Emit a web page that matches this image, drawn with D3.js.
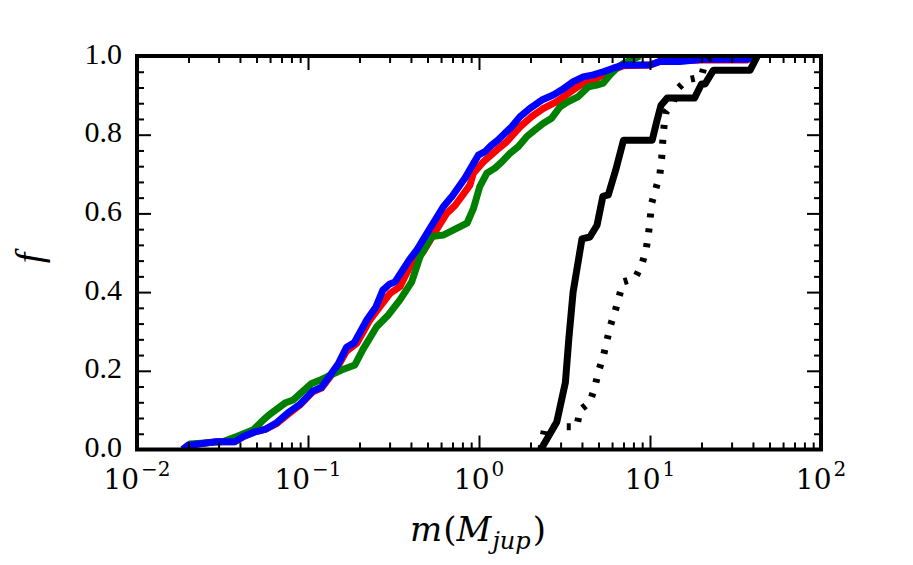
<!DOCTYPE html>
<html><head><meta charset="utf-8">
<script src="https://cdn.jsdelivr.net/npm/d3@7"></script>
<style>body{margin:0;background:#fff;} svg{display:block;}</style>
</head><body>
<script>
// ---- data (m in Jupiter masses, f = cumulative fraction) ----
const redM = [0.0185,0.0200,0.0292,0.0374,0.0419,0.049,0.0561,0.0656,0.0767,0.0897,0.107,0.120,0.150,0.168,0.193,0.230,0.260,0.302,0.345,0.395,0.472,0.541,0.647,0.724,0.885,0.927,1.06,1.269,1.452,1.738,2.03,2.38,2.85,3.33,3.90,4.46,5.33,6.10,6.98,10.0,11.4,20,37,40];
const redF = [0,0.011,0.020,0.020,0.033,0.045,0.051,0.066,0.090,0.113,0.147,0.156,0.212,0.250,0.270,0.329,0.360,0.397,0.414,0.465,0.503,0.545,0.600,0.620,0.672,0.702,0.731,0.761,0.782,0.820,0.846,0.867,0.884,0.905,0.926,0.935,0.952,0.965,0.975,0.977,0.986,0.990,0.990,1.0];

const greenM = [0.0187,0.0204,0.032,0.0383,0.0479,0.0548,0.060,0.0733,0.082,0.105,0.120,0.157,0.188,0.210,0.252,0.295,0.345,0.404,0.452,0.528,0.618,0.851,0.927,1.01,1.11,1.24,1.36,1.52,1.70,1.90,2.12,2.38,2.66,2.98,3.33,3.81,4.07,4.36,4.88,5.33,5.84,6.39,6.98,8.7];
const greenF = [0,0.014,0.020,0.033,0.050,0.075,0.090,0.118,0.126,0.168,0.178,0.202,0.215,0.255,0.312,0.342,0.380,0.426,0.490,0.541,0.545,0.575,0.612,0.668,0.702,0.715,0.731,0.753,0.770,0.795,0.812,0.829,0.842,0.871,0.884,0.897,0.909,0.922,0.926,0.931,0.952,0.969,0.981,1.0];

const blueM = [0.0185,0.0200,0.0292,0.0374,0.0419,0.049,0.0561,0.0656,0.0767,0.0897,0.107,0.120,0.150,0.168,0.186,0.222,0.250,0.274,0.299,0.323,0.391,0.433,0.483,0.618,0.700,0.828,0.906,0.991,1.084,1.186,1.297,1.419,1.553,1.738,1.986,2.33,2.72,3.05,3.56,4.07,4.66,5.33,6.10,6.98,10.0,11.4,14.9,20.4,37.4,40];
const blueF = [0,0.011,0.020,0.020,0.033,0.045,0.051,0.068,0.094,0.115,0.149,0.158,0.217,0.260,0.271,0.331,0.363,0.405,0.420,0.426,0.482,0.507,0.541,0.617,0.645,0.690,0.719,0.748,0.757,0.774,0.787,0.804,0.820,0.846,0.867,0.888,0.901,0.914,0.935,0.947,0.952,0.960,0.969,0.977,0.977,0.986,0.986,0.992,0.992,1.0];

const solidM = [2.3,2.85,3.2,3.35,3.55,4.0,4.45,4.9,5.3,5.7,6.3,7.0,10.3,10.9,11.6,12.6,18.2,20.0,21.0,23.5,38.5,42.5];
const solidF = [0,0.07,0.17,0.28,0.40,0.535,0.54,0.57,0.643,0.647,0.71,0.786,0.786,0.83,0.875,0.893,0.893,0.929,0.929,0.964,0.964,1.0];

const dotM = [2.3,2.43,3.06,3.73,3.90,4.46,4.77,4.99,5.33,5.58,5.84,6.24,6.59,6.98,8.17,8.94,9.48,9.78,10.0,10.23,10.84,11.43,11.7,11.86,12.07,12.4,13.7,14.6,16.4,20.0,21.0,22.4,25.0];
const dotF = [0,0.058,0.058,0.058,0.10,0.121,0.16,0.198,0.236,0.274,0.312,0.35,0.388,0.426,0.435,0.469,0.507,0.545,0.583,0.626,0.664,0.70,0.74,0.78,0.82,0.858,0.884,0.918,0.939,0.947,0.985,0.995,1.0];

const xMajor = [1e-2,1e-1,1e0,1e1,1e2];
const xExp = ["\u22122","\u22121","0","1","2"];
const yMajor = [0,0.2,0.4,0.6,0.8,1.0];
const yLabels = ["0.0","0.2","0.4","0.6","0.8","1.0"];

// ---- layout ----
const W=913,H=565, L=137,R=821,T=56,B=449.5;
const serifA = "Liberation Serif";
const serifB = "DejaVu Serif";
const svg = d3.select("body").append("svg").attr("width",W).attr("height",H);
const x = d3.scaleLog().domain([1e-2,1e2]).range([L,R]);
const y = d3.scaleLinear().domain([0,1]).range([B,T]);

svg.append("defs").append("clipPath").attr("id","clip")
  .append("rect").attr("x",L).attr("y",T).attr("width",R-L).attr("height",B-T);

const series = [
  {m:redM,f:redF,color:"#ff0000",dash:null},
  {m:greenM,f:greenF,color:"#008000",dash:null},
  {m:blueM,f:blueF,color:"#0000ff",dash:null},
  {m:dotM,f:dotF,color:"#000000",dash:"4 11"},
  {m:solidM,f:solidF,color:"#000000",dash:null}
];
const line = d3.line().x(d=>x(d[0])).y(d=>y(d[1]));
const g = svg.append("g").attr("clip-path","url(#clip)");
series.forEach(s=>{
  g.append("path").datum(s.m.map((v,i)=>[v,s.f[i]]))
   .attr("d",line).attr("fill","none").attr("stroke",s.color)
   .attr("stroke-width",7).attr("stroke-linejoin","round")
   .attr("stroke-linecap","butt")
   .attr("stroke-dasharray", s.dash);
});

// ---- ticks (inward, on all four sides) ----
const xMinor = [];
[-2,-1,0,1].forEach(e=>{ for(let k=2;k<=9;k++) xMinor.push(k*Math.pow(10,e)); });
const yMinor = d3.range(0,1.0001,0.04).filter(v=>Math.abs(v/0.2-Math.round(v/0.2))>1e-6);

function addAxis(axisGen, tx, ty, vals, size){
  const a = svg.append("g").attr("transform",`translate(${tx},${ty})`)
    .call(axisGen.tickValues(vals).tickSize(size).tickSizeOuter(0).tickFormat(""));
  a.select(".domain").remove();
  a.selectAll(".tick line").attr("stroke","#000").attr("stroke-width",2);
}
addAxis(d3.axisBottom(x),0,B,xMajor,-14);
addAxis(d3.axisBottom(x),0,B,xMinor,-7);
addAxis(d3.axisTop(x),0,T,xMajor,-14);
addAxis(d3.axisTop(x),0,T,xMinor,-7);
addAxis(d3.axisLeft(y),L,0,yMajor,-14);
addAxis(d3.axisLeft(y),L,0,yMinor,-7);
addAxis(d3.axisRight(y),R,0,yMajor,-14);
addAxis(d3.axisRight(y),R,0,yMinor,-7);

// spines
svg.append("rect").attr("x",L).attr("y",T).attr("width",R-L).attr("height",B-T)
  .attr("fill","none").attr("stroke","#000").attr("stroke-width",4);

// ---- tick labels ----
yMajor.forEach((v,i)=>{
  svg.append("text").attr("x",L-15).attr("y",y(v)+7.5)
    .attr("text-anchor","end").style("font-family",serifA).attr("font-size",30)
    .text(yLabels[i]);
});
xMajor.forEach((v,i)=>{
  const t = svg.append("text").attr("x",x(v)).attr("y",489)
    .attr("text-anchor","middle").style("font-family",serifB).attr("font-size",28);
  t.append("tspan").text("10");
  const sup = xExp[i];
  t.append("tspan").attr("dy",-13).attr("dx",2).attr("font-size",20).text(sup);
});

// ---- axis titles ----
const xt = svg.append("text").attr("x",478).attr("y",541).attr("text-anchor","middle")
  .style("font-family",serifB).attr("font-size",34);
xt.append("tspan").attr("font-style","italic").text("m");
xt.append("tspan").attr("dx",1).text("(");
xt.append("tspan").attr("font-style","italic").text("M");
xt.append("tspan").attr("font-style","italic").attr("font-size",24).attr("dy",8).attr("dx",1).text("jup");
xt.append("tspan").attr("dy",-8).attr("dx",2).text(")");

svg.append("text").attr("transform","translate(42,258) rotate(-90)")
  .attr("text-anchor","middle").style("font-family",serifA).attr("font-style","italic")
  .attr("font-size",38).text("f");
</script>
</body></html>
